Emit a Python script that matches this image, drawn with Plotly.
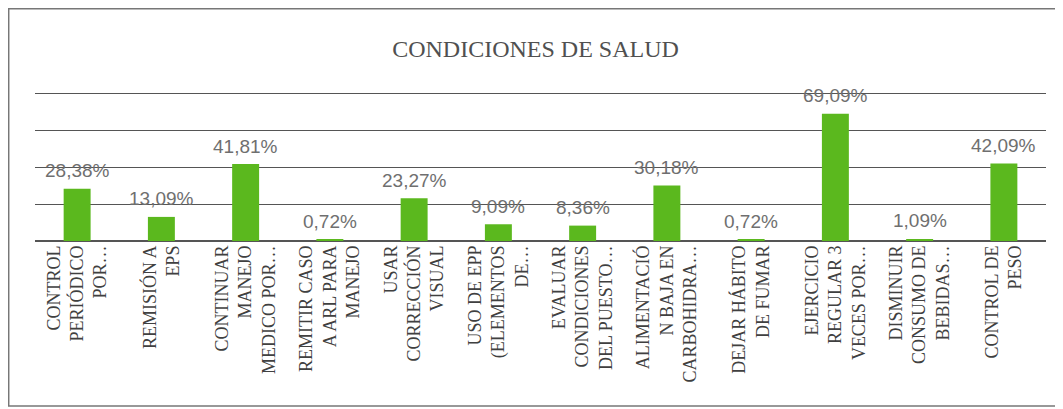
import plotly.graph_objects as go

categories = [
    "CONTROL<br>PERIÓDICO<br>POR…",
    "REMISIÓN A<br>EPS",
    "CONTINUAR<br>MANEJO<br>MEDICO POR…",
    "REMITIR CASO<br>A ARL PARA<br>MANEJO",
    "USAR<br>CORRECCIÓN<br>VISUAL",
    "USO DE EPP<br>(ELEMENTOS<br>DE…",
    "EVALUAR<br>CONDICIONES<br>DEL PUESTO…",
    "ALIMENTACIÓ<br>N BAJA EN<br>CARBOHIDRA…",
    "DEJAR HÁBITO<br>DE FUMAR",
    "EJERCICIO<br>REGULAR 3<br>VECES POR…",
    "DISMINUIR<br>CONSUMO DE<br>BEBIDAS…",
    "CONTROL DE<br>PESO",
]
values = [28.38, 13.09, 41.81, 0.72, 23.27, 9.09, 8.36, 30.18, 0.72, 69.09, 1.09, 42.09]
labels = [f"{v:.2f}".replace(".", ",") + "%" for v in values]
y_ticks = [0, 20, 40, 60, 80]

fig = go.Figure()

fig.add_trace(
    go.Bar(
        x=categories,
        y=values,
        marker={"color": "#5BB81E", "line": {"width": 0}},
        hoverinfo="x+y",
    )
)

# etiquetas de datos encima de cada barra
for cat, val, lab in zip(categories, values, labels):
    fig.add_annotation(
        x=cat,
        y=val,
        text=lab,
        showarrow=False,
        yanchor="middle",
        yshift=18,
        font={"family": "Liberation Sans, Arial", "size": 19, "color": "#6f6f6f"},
    )

# el navegador deja 8px de margen en el body, por eso 1055x401
fig.update_layout(
    title={
        "text": "CONDICIONES DE SALUD",
        "x": 0.5,
        "xanchor": "center",
        "y": 0.900,
        "yanchor": "middle",
        "font": {"family": "Liberation Serif, DejaVu Serif", "size": 24, "color": "#505050"},
    },
    width=1055,
    height=401,
    margin={"l": 27, "r": 17, "t": 82, "b": 168},
    paper_bgcolor="white",
    plot_bgcolor="white",
    bargap=0.68,
    showlegend=False,
    xaxis={
        "tickangle": -90,
        "tickfont": {"family": "Liberation Serif, DejaVu Serif", "size": 18, "color": "#404040"},
        "showgrid": False,
        "showline": False,
        "ticks": "",
        "automargin": False,
    },
    yaxis={
        "range": [0, 82],
        "tickvals": y_ticks,
        "showticklabels": False,
        "showgrid": True,
        "gridcolor": "#555555",
        "gridwidth": 1,
        "zeroline": True,
        "zerolinecolor": "#555555",
        "zerolinewidth": 1.5,
        "ticks": "",
        "automargin": False,
    },
)

# marco del gráfico (el lado derecho queda fuera de la imagen)
fig.add_shape(
    type="rect",
    xref="paper",
    yref="paper",
    x0=-0.026,
    x1=1.2,
    y0=-1.093,
    y1=1.538,
    line={"color": "#777777", "width": 1.5},
    fillcolor="rgba(0,0,0,0)",
    layer="below",
)

fig.write_html("out.html")
